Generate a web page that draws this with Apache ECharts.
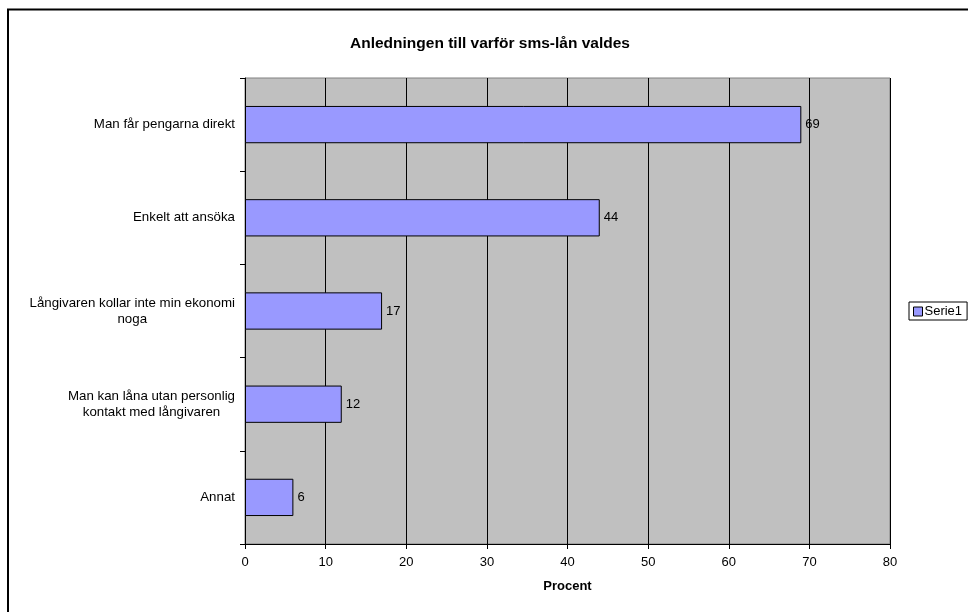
<!DOCTYPE html>
<html>
<head>
<meta charset="utf-8">
<script src="https://cdn.jsdelivr.net/npm/echarts@6/dist/echarts.min.js"></script>
<style>
  html, body { margin: 0; padding: 0; background: #fff; }
  #chart { width: 968px; height: 612px; }
</style>
</head>
<body>
<div id="chart"></div>
<script>
// Reasons for choosing SMS loans (percent of respondents)
const categories = [
  'Man får pengarna direkt',
  'Enkelt att ansöka',
  'Långivaren kollar inte min ekonomi\nnoga',
  'Man kan låna utan personlig\nkontakt med långivaren',
  'Annat'
];
const values = [69, 44, 17, 12, 6];
const seriesName = 'Serie1';
const chartTitle = 'Anledningen till varför sms-lån valdes';
const xAxisName = 'Procent';
const xTicks = { min: 0, max: 80, interval: 10 };

const FONT = '"Liberation Sans", Arial, sans-serif';

const chart = echarts.init(document.getElementById('chart'), null, { renderer: 'canvas' });

chart.setOption({
  animation: false,
  backgroundColor: '#ffffff',
  textStyle: { fontFamily: FONT },
  title: {
    text: chartTitle,
    left: 485,
    top: 31,
    textAlign: 'center',
    textStyle: { fontFamily: FONT, fontSize: 15.5, fontWeight: 'bold', color: '#000' }
  },
  graphic: [{
    type: 'rect',
    shape: { x: 8, y: 9.5, width: 1000, height: 700 },
    style: { fill: 'none', stroke: '#000', lineWidth: 2 },
    silent: true,
    z: 100
  }],
  legend: {
    orient: 'vertical',
    left: 909,
    top: 302,
    padding: [3, 5, 2, 4],
    itemWidth: 9,
    itemHeight: 9,
    itemGap: 0,
    borderColor: '#000',
    borderWidth: 1,
    backgroundColor: '#fff',
    icon: 'rect',
    itemStyle: { borderColor: '#000', borderWidth: 1 },
    textStyle: { fontFamily: FONT, fontSize: 13, color: '#000', padding: [0, 0, 0, -3] },
    data: [seriesName]
  },
  grid: {
    left: 245,
    right: 78,
    top: 78,
    bottom: 68,
    show: true,
    backgroundColor: '#C0C0C0',
    borderColor: '#808080',
    borderWidth: 1
  },
  xAxis: {
    type: 'value',
    min: xTicks.min,
    max: xTicks.max,
    interval: xTicks.interval,
    name: xAxisName,
    nameLocation: 'middle',
    nameGap: 36,
    nameTextStyle: { fontFamily: FONT, fontSize: 13, fontWeight: 'bold', color: '#000' },
    axisLine: { show: true, lineStyle: { color: '#000', width: 1 } },
    axisTick: { show: true, length: 5, lineStyle: { color: '#000' } },
    axisLabel: { fontFamily: FONT, fontSize: 13, color: '#000', margin: 12 },
    splitLine: { show: true, lineStyle: { color: '#000', width: 1 } }
  },
  yAxis: {
    type: 'category',
    inverse: true,
    data: categories,
    axisLine: { show: true, lineStyle: { color: '#000', width: 1 } },
    axisTick: { show: true, length: 5, lineStyle: { color: '#000' } },
    axisLabel: {
      margin: 10,
      color: '#000',
      formatter: function (v) {
        return v.split('\n').map(function (line) { return '{c|' + line + '}'; }).join('\n');
      },
      rich: {
        c: { fontFamily: FONT, fontSize: 13.3, color: '#000', align: 'center', lineHeight: 16 }
      }
    },
    splitLine: { show: false }
  },
  series: [{
    name: seriesName,
    type: 'bar',
    data: values,
    barWidth: '40%',
    itemStyle: { color: '#9999FF', borderColor: '#000', borderWidth: 1 },
    label: {
      show: true,
      position: 'right',
      distance: 4,
      fontFamily: FONT,
      fontSize: 13,
      color: '#000'
    }
  }]
});
</script>
</body>
</html>
